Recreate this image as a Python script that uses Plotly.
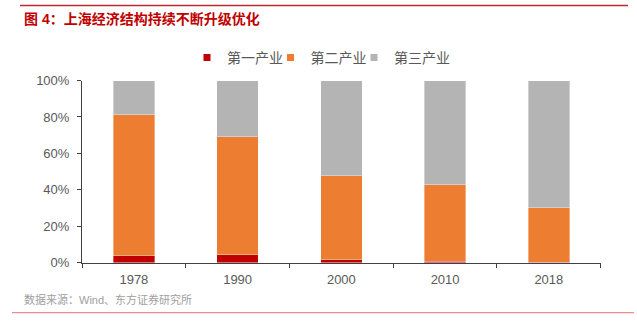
import plotly.graph_objects as go

W, H = 637, 325

years = ["1978", "1990", "2000", "2010", "2018"]
primary = [3.8, 4.4, 1.6, 0.7, 0.3]
secondary = [77.3, 64.7, 46.1, 42.1, 29.8]
tertiary = [18.9, 30.9, 52.3, 57.2, 69.9]
series_names = ["第一产业", "第二产业", "第三产业"]
series_colors = ["#C00000", "#ED7D31", "#B4B4B4"]
y_ticks = [0, 20, 40, 60, 80, 100]
y_tick_labels = ["0%", "20%", "40%", "60%", "80%", "100%"]

title_text = "图 4：上海经济结构持续不断升级优化"
source_text = "数据来源：Wind、东方证券研究所"

FONT = "Liberation Sans, Arial, Noto Sans CJK SC, sans-serif"

def px_x(p):
    return p / W

def px_y(p):
    return 1 - p / H

fig = go.Figure()
n = len(series_names)
for i, (name, vals, col) in enumerate(zip(series_names, [primary, secondary, tertiary], series_colors)):
    fig.add_trace(go.Bar(
        x=years, y=vals, name=name, marker=dict(color=col, line=dict(color="rgba(255,255,255,0.6)", width=0.6)),
        showlegend=False,
    ))
    fig.add_trace(go.Scatter(
        x=[None], y=[None], mode="markers", name=name,
        marker=dict(symbol="square", size=7, color=col), showlegend=True,
        legendwidth=(38.5 if i < n - 1 else 70),
    ))

fig.update_layout(
    width=W, height=H,
    margin=dict(l=0, r=0, t=0, b=0),
    paper_bgcolor="white", plot_bgcolor="white",
    barmode="stack", bargap=0.6,
    font=dict(family=FONT, size=13, color="#595959"),
    legend=dict(
        orientation="h", x=px_x(187), xanchor="left", y=px_y(57.8), yanchor="middle",
        font=dict(size=14, color="#595959"),
        bgcolor="rgba(0,0,0,0)", traceorder="normal",
    ),
    xaxis=dict(
        domain=[px_x(82), px_x(600.7)], automargin=False,
        showline=True, linecolor="#404040", linewidth=1,
        ticks="outside", tickson="boundaries", ticklen=4, tickcolor="#404040",
        tickfont=dict(size=13, color="#595959"), showgrid=False, zeroline=False,
        ticklabelstandoff=5,
    ),
    yaxis=dict(
        domain=[1 - 262.7 / H, 1 - 80.5 / H], automargin=False,
        range=[0, 100], tickvals=y_ticks, ticktext=y_tick_labels,
        showline=True, linecolor="#404040", linewidth=1,
        ticks="outside", ticklen=4, tickcolor="#404040",
        tickfont=dict(size=13, color="#595959"), showgrid=False, zeroline=False,
        ticklabelstandoff=5,
    ),
    shapes=[
        dict(type="line", xref="paper", yref="paper", x0=px_x(20), x1=px_x(628), y0=px_y(5.5), y1=px_y(5.5),
             line=dict(color="#C0282A", width=1.3)),
        dict(type="line", xref="paper", yref="paper", x0=px_x(12), x1=px_x(634), y0=px_y(312.7), y1=px_y(312.7),
             line=dict(color="#E87070", width=1)),
    ],
    annotations=[
        dict(text="<b>" + title_text + "</b>", xref="paper", yref="paper", x=px_x(22), y=px_y(19),
             xanchor="left", yanchor="middle", showarrow=False,
             font=dict(family=FONT, size=14, color="#C00000")),
        dict(text=source_text, xref="paper", yref="paper", x=px_x(22), y=px_y(299),
             xanchor="left", yanchor="middle", showarrow=False,
             font=dict(family=FONT, size=11, color="#A0A0A0")),
    ],
)

fig.write_html("out.html")
